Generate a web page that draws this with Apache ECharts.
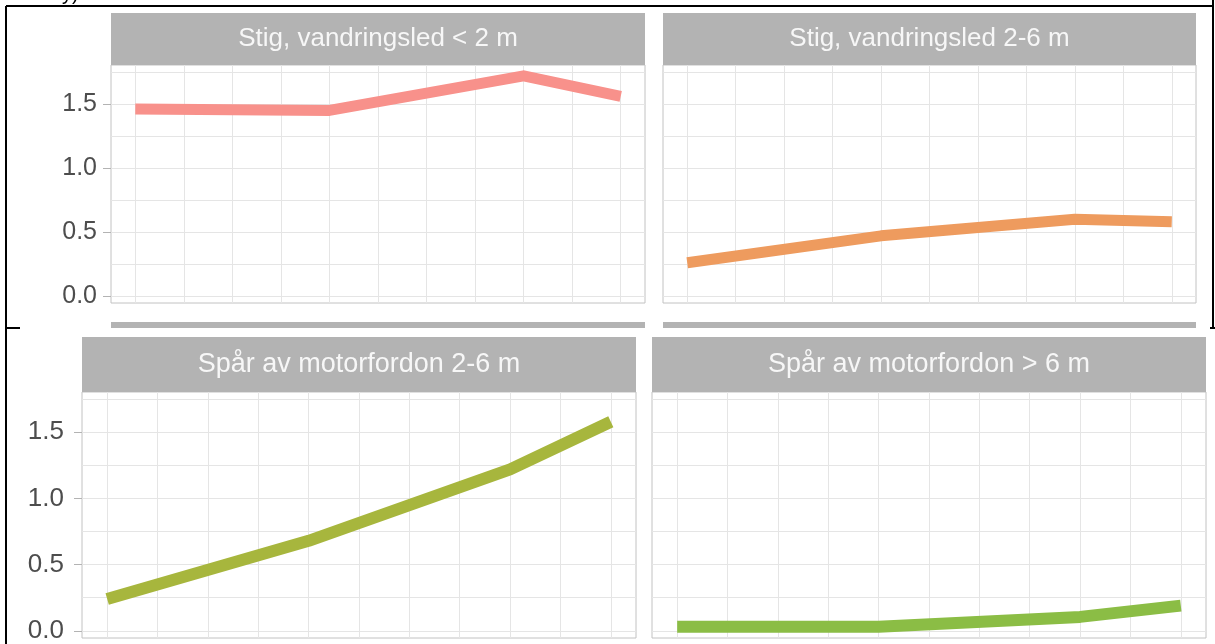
<!DOCTYPE html>
<html>
<head>
<meta charset="utf-8">
<script src="https://cdn.jsdelivr.net/npm/echarts@6/dist/echarts.min.js"></script>
<style>
  html, body { margin: 0; padding: 0; background: #ffffff; }
  #chart { width: 1215px; height: 644px; }
</style>
</head>
<body>
<div id="chart"></div>
<script>
// Facet titles (one panel per path/track class)
const facetTitles = [
  'Stig, vandringsled < 2 m',
  'Stig, vandringsled 2-6 m',
  'Spår av motorfordon 2-6 m',
  'Spår av motorfordon > 6 m'
];

// Inventory years along the x axis
const years = [2008, 2012, 2016, 2018];

// Values per facet
const stigUnder2 = [1.46, 1.45, 1.72, 1.56];
const stig2to6   = [0.26, 0.47, 0.60, 0.58];
const spar2to6   = [0.24, 0.68, 1.22, 1.58];
const sparOver6  = [0.03, 0.03, 0.105, 0.19];

// Axis breaks
const yLabelBreaks = [0, 0.5, 1.0, 1.5];
const yGridBreaks  = [0, 0.25, 0.5, 0.75, 1.0, 1.25, 1.5, 1.75];
const xGridBreaks  = [2008, 2009, 2010, 2011, 2012, 2013, 2014, 2015, 2016, 2017, 2018];

const facetValues = [stigUnder2, stig2to6, spar2to6, sparOver6];
const lineColors = ['#f8918b', '#ee9b5e', '#a7b63d', '#8bbd45'];

// Shared scales with 5% padding on both sides
const allVals = [].concat(stigUnder2, stig2to6, spar2to6, sparOver6);
const yLo = Math.min.apply(null, allVals), yHi = Math.max.apply(null, allVals);
const yPad = (yHi - yLo) * 0.05;
const yMin = yLo - yPad, yMax = yHi + yPad;
const xLo = Math.min.apply(null, years), xHi = Math.max.apply(null, years);
const xPad = (xHi - xLo) * 0.05;
const xMin = xLo - xPad, xMax = xHi + xPad;

// Panel geometry (plot areas and strips)
const panels = [
  { left: 111, top: 65,  width: 534, height: 238, stripTop: 13,  stripH: 52, font: 26, labels: true,  labelFont: 25, labelMargin: 14, lineW: 11 },
  { left: 663, top: 65,  width: 533, height: 238, stripTop: 13,  stripH: 52, font: 26, labels: false, labelFont: 25, labelMargin: 14, lineW: 11 },
  { left: 82,  top: 392, width: 554, height: 246, stripTop: 337, stripH: 55, font: 27, labels: true,  labelFont: 26, labelMargin: 18, lineW: 12 },
  { left: 652, top: 392, width: 554, height: 246, stripTop: 337, stripH: 55, font: 27, labels: false, labelFont: 26, labelMargin: 18, lineW: 12 }
];

const gridLineColor = '#e5e5e5';
const grids = [], xAxes = [], yAxes = [], series = [], graphics = [];

panels.forEach(function (p, i) {
  grids.push({
    left: p.left, top: p.top, width: p.width, height: p.height,
    show: true, backgroundColor: '#ffffff', borderColor: '#c2c2c2', borderWidth: 1,
    containLabel: false
  });
  xAxes.push({
    type: 'value', gridIndex: i, min: xMin, max: xMax,
    axisLine: { show: false },
    axisTick: { show: false, customValues: xGridBreaks },
    axisLabel: { show: false, customValues: xGridBreaks },
    splitLine: { show: true, lineStyle: { color: gridLineColor, width: 1 } }
  });
  // labelled axis: tick marks and numbers only
  yAxes.push({
    type: 'value', gridIndex: i, min: yMin, max: yMax, position: 'left',
    axisLine: { show: false },
    axisTick: { show: p.labels, customValues: yLabelBreaks, length: 8, lineStyle: { color: '#b3b3b3', width: 1 } },
    axisLabel: {
      show: p.labels, customValues: yLabelBreaks, margin: p.labelMargin,
      fontFamily: 'Liberation Sans', fontSize: p.labelFont, color: '#4d4d4d',
      formatter: function (v) { return v.toFixed(1); }
    },
    splitLine: { show: false }
  });
  // grid axis: major and minor horizontal lines
  yAxes.push({
    type: 'value', gridIndex: i, min: yMin, max: yMax, position: 'right',
    axisLine: { show: false },
    axisTick: { show: false, customValues: yGridBreaks },
    axisLabel: { show: false, customValues: yGridBreaks },
    splitLine: { show: true, lineStyle: { color: gridLineColor, width: 1 } }
  });
  series.push({
    type: 'line', xAxisIndex: i, yAxisIndex: i * 2,
    data: years.map(function (yr, k) { return [yr, facetValues[i][k]]; }),
    showSymbol: false, symbol: 'none', smooth: false,
    lineStyle: { color: lineColors[i], width: p.lineW, cap: 'butt', join: 'round' },
    silent: true, animation: false
  });
  // facet strip
  graphics.push({
    type: 'rect', left: p.left, top: p.stripTop,
    shape: { width: p.width, height: p.stripH },
    style: { fill: '#b3b3b3' }, z: 10
  });
  graphics.push({
    type: 'text', x: p.left + p.width / 2, y: p.stripTop + p.stripH / 2,
    style: {
      text: facetTitles[i], fill: '#f7f7f7',
      font: p.font + 'px "Liberation Sans", Arial, sans-serif',
      textAlign: 'center', textVerticalAlign: 'middle'
    }, z: 11
  });
});

// strips of the next facet row, cut off below the upper panels
[0, 1].forEach(function (i) {
  const p = panels[i];
  graphics.push({
    type: 'rect', left: p.left, top: 322,
    shape: { width: p.width, height: 6 },
    style: { fill: '#b3b3b3' }, z: 10
  });
});

// surrounding table rules
const rule = { stroke: '#000000', lineWidth: 2 };
graphics.push({ type: 'line', shape: { x1: 6, y1: 6, x2: 1214, y2: 6 }, style: rule, z: 20 });
graphics.push({ type: 'line', shape: { x1: 6, y1: 6, x2: 6, y2: 644 }, style: rule, z: 20 });
graphics.push({ type: 'line', shape: { x1: 1213, y1: 0, x2: 1213, y2: 328 }, style: rule, z: 20 });
graphics.push({ type: 'line', shape: { x1: 6, y1: 328, x2: 20, y2: 328 }, style: rule, z: 20 });
graphics.push({ type: 'line', shape: { x1: 1210, y1: 328, x2: 1215, y2: 328 }, style: rule, z: 20 });
graphics.push({
  type: 'text', x: 62, y: -16,
  style: { text: 'y)', fill: '#000000', font: '20px "Liberation Sans", Arial, sans-serif' }, z: 20
});

const chart = echarts.init(document.getElementById('chart'), null, { renderer: 'canvas' });
chart.setOption({
  animation: false,
  backgroundColor: '#ffffff',
  grid: grids,
  xAxis: xAxes,
  yAxis: yAxes,
  series: series,
  graphic: graphics
});
</script>
</body>
</html>
